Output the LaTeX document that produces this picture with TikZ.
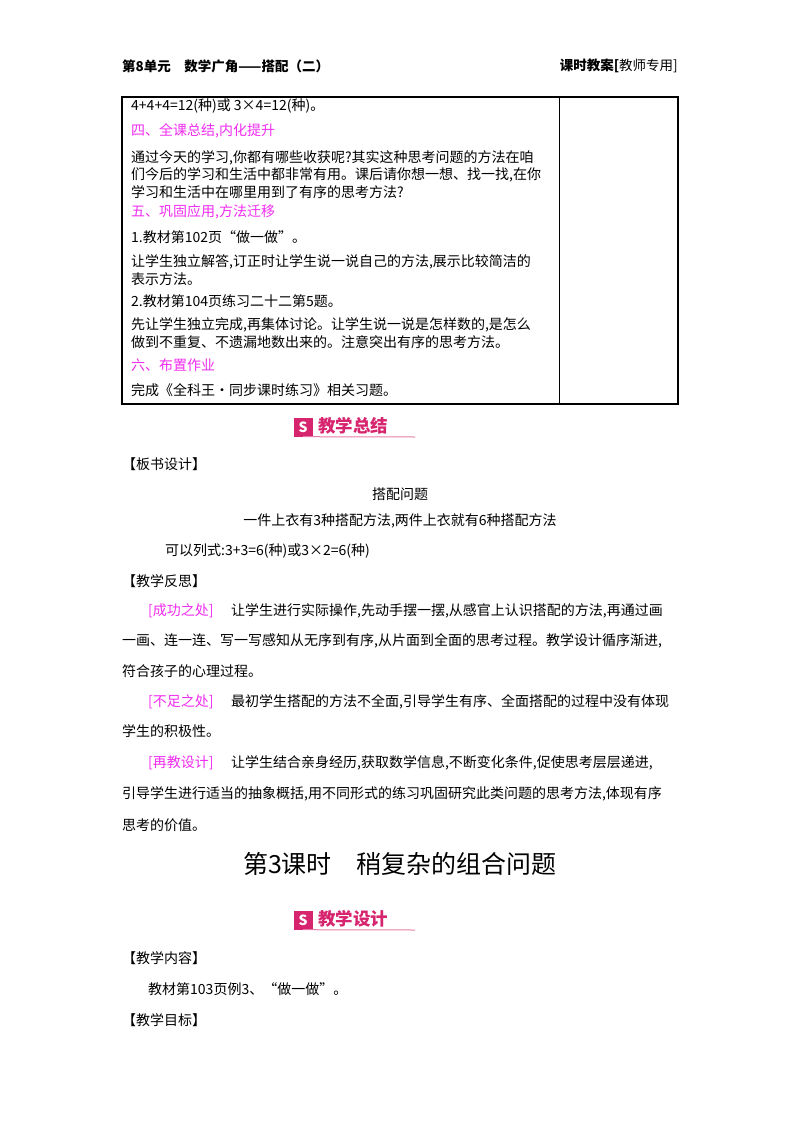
\documentclass[tikz,border=0pt]{standalone}
\usepackage{fontspec}
\setmainfont{Noto Sans CJK SC}
\definecolor{mag}{HTML}{F02CF0}
\definecolor{badge}{HTML}{D6246E}
\begin{document}
\begin{tikzpicture}[x=1pt,y=-1pt,
  t/.style={anchor=west,inner sep=0pt,font=\fontsize{14}{16}\selectfont},
  m/.style={t,text=mag},
  h/.style={t,font=\fontsize{13.5}{16}\selectfont\bfseries},
  bt/.style={anchor=west,inner sep=0pt,font=\fontsize{17.5}{18}\selectfont\bfseries,text=badge}]
\useasboundingbox (0,0) rectangle (800,1132);
% header
\node[h] (h1) at (122,66) {第8单元\quad 数学广角——搭配（二）};
\node[h,anchor=east] (h2) at (678,66) {课时教案[\normalfont 教师专用]};
% table
\draw[line width=1.2pt] (122,97) rectangle (678,404);
\draw[line width=1pt] (559,97) -- (559,404);
\node[t] (r1) at (131,106) {4+4+4=12(种)或 3×4=12(种)。};
\node[m] (r2) at (131,131) {四、全课总结,内化提升};
\node[t] (r3) at (131,158) {通过今天的学习,你都有哪些收获呢?其实这种思考问题的方法在咱};
\node[t] (r4) at (131,175) {们今后的学习和生活中都非常有用。课后请你想一想、找一找,在你};
\node[t] (r5) at (131,192) {学习和生活中在哪里用到了有序的思考方法?};
\node[m] (r6) at (131,212) {五、巩固应用,方法迁移};
\node[t] (r7) at (131,237) {1.教材第102页“做一做”。};
\node[t] (r8) at (131,262) {让学生独立解答,订正时让学生说一说自己的方法,展示比较简洁的};
\node[t] (r9) at (131,279) {表示方法。};
\node[t] (r10) at (131,301) {2.教材第104页练习二十二第5题。};
\node[t] (r11) at (131,325) {先让学生独立完成,再集体讨论。让学生说一说是怎样数的,是怎么};
\node[t] (r12) at (131,342) {做到不重复、不遗漏地数出来的。注意突出有序的思考方法。};
\node[m] (r13) at (131,365) {六、布置作业};
\node[t] (r14) at (131,390) {完成《全科王·同步课时练习》相关习题。};
% badge 1
\node[fill=badge,minimum size=19pt,inner sep=0pt,text=white,font=\bfseries\fontsize{14}{14}\selectfont] (b1i) at (303,427) {S};
\node[bt] (b1t) at (318,426) {教学总结};
\draw[badge!60,line width=1pt] (b1i.south) -- (415,437);
\node[t] (s1) at (122,464) {【板书设计】};
\node[t,anchor=center] (s2) at (400,494) {搭配问题};
\node[t,anchor=center] (s3) at (400,521) {一件上衣有3种搭配方法,两件上衣就有6种搭配方法};
\node[t] (s4) at (165,551) {可以列式:3+3=6(种)或3×2=6(种)};
\node[t] (s5) at (122,581) {【教学反思】};
\node[m] (f1) at (148,611) {[成功之处]};
\node[t] (f2) at (231,611) {让学生进行实际操作,先动手摆一摆,从感官上认识搭配的方法,再通过画};
\node[t] (f3) at (122,641) {一画、连一连、写一写感知从无序到有序,从片面到全面的思考过程。教学设计循序渐进,};
\node[t] (f4) at (122,671) {符合孩子的心理过程。};
\node[m] (g1) at (148,702) {[不足之处]};
\node[t] (g2) at (231,702) {最初学生搭配的方法不全面,引导学生有序、全面搭配的过程中没有体现};
\node[t] (g3) at (122,731) {学生的积极性。};
\node[m] (k1) at (148,763) {[再教设计]};
\node[t] (k2) at (231,763) {让学生结合亲身经历,获取数学信息,不断变化条件,促使思考层层递进,};
\node[t] (k3) at (122,794) {引导学生进行适当的抽象概括,用不同形式的练习巩固研究此类问题的思考方法,体现有序};
\node[t] (k4) at (122,825) {思考的价值。};
\node[anchor=center,inner sep=0pt,font=\fontsize{25}{27}\selectfont] (title) at (400,864) {第3课时\quad 稍复杂的组合问题};
% badge 2
\node[fill=badge,minimum size=19pt,inner sep=0pt,text=white,font=\bfseries\fontsize{14}{14}\selectfont] (b2i) at (303,920) {S};
\node[bt] (b2t) at (318,919) {教学设计};
\draw[badge!60,line width=1pt] (b2i.south) -- (415,930);
\node[t] (n1) at (122,958) {【教学内容】};
\node[t] (n2) at (148,989) {教材第103页例3、“做一做”。};
\node[t] (n3) at (122,1020) {【教学目标】};
\end{tikzpicture}
\end{document}
